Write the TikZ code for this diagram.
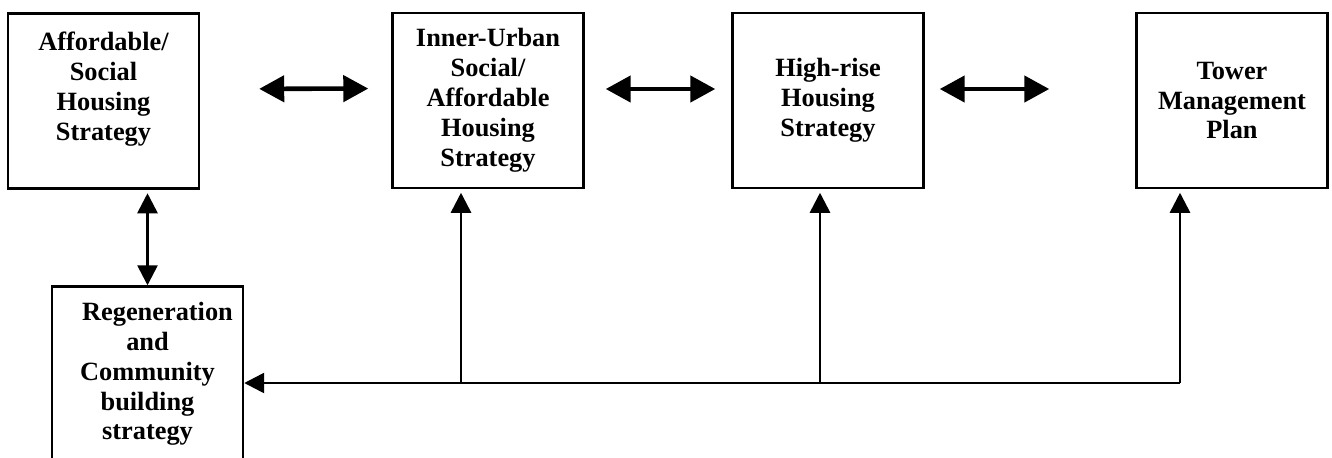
\documentclass[tikz,border=0pt]{standalone}
\usepackage{fontspec}
\setmainfont{Liberation Serif}
\usepackage{tikz}
\usetikzlibrary{arrows.meta,positioning}

\begin{document}
\begin{tikzpicture}[
    strategy/.style={rectangle, draw, line width=1.4pt, minimum width=3.82cm, minimum height=3.5cm,
      align=center, font=\fontsize{15}{17}\selectfont\bfseries, inner sep=2pt},
    biarrow/.style={{Triangle[length=0.5cm,width=0.52cm]}-{Triangle[length=0.5cm,width=0.52cm]}, line width=2.6pt},
    arrow/.style={-{Triangle[length=0.4cm,width=0.4cm]}, line width=1.5pt}
]
\useasboundingbox (0,0) rectangle (26.64,-9.14);
\clip (0,0) rectangle (26.64,-9.14);

% Strategy boxes
\node[strategy] (social) at (2.07,-2.02) {Affordable/\\Social\\Housing\\Strategy\\ \mbox{}};
\node[strategy] (inner) at (9.76,-2.01) {Inner-Urban\\Social/\\Affordable\\Housing\\Strategy};
\node[strategy] (highrise) at (16.56,-2.01) {High-rise\\Housing\\Strategy};
\node[strategy] (tower) at (24.64,-2.01) {Tower\\Management\\Plan};

% Regeneration box
\node[strategy] (regen) at (2.95,-7.48) {\hspace*{0.4cm}Regeneration\\and\\Community\\building\\strategy};

% Links along the top row
\draw[biarrow, shorten <=1.18cm, shorten >=0.46cm] ([yshift=0.24cm]social.east) -- ([yshift=0.24cm]inner.west);
\draw[biarrow, shorten <=0.42cm, shorten >=0.32cm] ([yshift=0.23cm]inner.east) -- ([yshift=0.23cm]highrise.west);
\draw[biarrow, shorten <=0.3cm, shorten >=1.72cm] ([yshift=0.23cm]highrise.east) -- ([yshift=0.23cm]tower.west);

% Feed line
\coordinate (bus_inner) at (9.22,-7.66);
\coordinate (bus_highrise) at (16.4,-7.66);
\coordinate (bus_tower) at (23.6,-7.66);

\draw[arrow, shorten >=2pt] (bus_inner) -- (bus_inner |- inner.south);
\draw[arrow, shorten >=2pt] (bus_highrise) -- (bus_highrise |- highrise.south);
\draw[arrow, shorten >=2pt] (bus_tower) -- (bus_tower |- tower.south);
\draw[arrow] (bus_tower) -- (bus_tower -| regen.east);
\draw[{Triangle[length=0.4cm,width=0.4cm]}-{Triangle[length=0.4cm,width=0.4cm]}, line width=1.5pt, shorten >=2pt]
  (regen.north) -- (regen.north |- social.south);

\end{tikzpicture}
\end{document}
